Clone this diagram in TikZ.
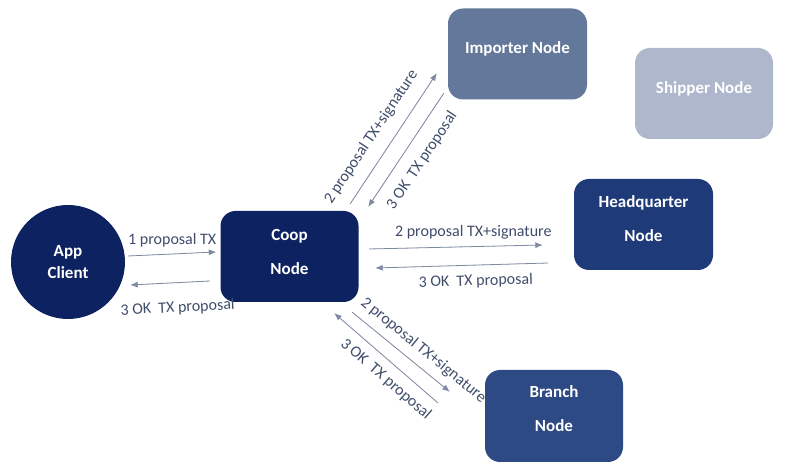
\documentclass[tikz,border=0pt]{standalone}
\usepackage{fontspec}
\setmainfont{Carlito}
\usetikzlibrary{arrows.meta}
\definecolor{navy}{HTML}{0D2260}
\definecolor{hqblue}{HTML}{1E3A78}
\definecolor{branchblue}{HTML}{2E4A85}
\definecolor{importerblue}{HTML}{63789B}
\definecolor{shipperblue}{HTML}{AEB7CB}
\definecolor{arrowgray}{HTML}{7F8AA0}
\definecolor{labeltext}{HTML}{3F4D6B}

\begin{document}
\begin{tikzpicture}[
    x=1pt, y=1pt,
    peer/.style={
      rounded corners=15pt,
      align=center,
      text=white,
      minimum width=138pt,
      minimum height=91pt,
      font=\fontsize{17}{20}\selectfont\bfseries
    },
    app/.style={
      circle,
      fill=navy,
      align=center,
      text=white,
      minimum size=114pt,
      font=\fontsize{17}{20}\selectfont\bfseries
    },
    arrow/.style={-{Latex[length=7.5pt,width=6pt]}, draw=arrowgray, fill=arrowgray, line width=0.8pt},
    lbl/.style={text=labeltext, font=\fontsize{16}{18}\selectfont, inner sep=2pt}
  ]
    \useasboundingbox (0,0) rectangle (785,474);

    \node[app] (client) at (68,212) {App\\[2pt]Client};
    \node[peer, fill=navy, text depth=10pt] (coop) at (289.5,217.5) {Coop\\[14pt]Node};
    \node[peer, fill=importerblue, minimum width=139pt, text depth=12pt] (importer) at (517.5,420) {Importer Node};
    \node[peer, fill=shipperblue, text depth=11pt] (shipper) at (704,380.5) {Shipper Node};
    \node[peer, fill=hqblue, minimum width=139pt, text depth=12pt] (hq) at (643.5,249.5) {Headquarter\\[14pt]Node};
    \node[peer, fill=branchblue, minimum height=92pt, text depth=14pt] (branch) at (554,58) {Branch\\[14pt]Node};

    \draw[arrow] ([shift={(3,6)}]client.east) -- ([shift={(-4,4.5)}]coop.west)
      node[lbl, midway, above=5pt] {1 proposal TX};
    \draw[arrow] ([shift={(-10.5,-24.5)}]coop.west) -- ([shift={(5,-23)}]client.east)
      node[lbl, pos=0.42, sloped, below=16pt] {3 OK\ \ TX proposal};

    \draw[arrow] ([shift={(-8.5,7)}]coop.north east) -- ([shift={(-11,26.5)}]importer.south west)
      node[lbl, pos=0.43, sloped, above=10pt] {2 proposal TX+signature};
    \draw[arrow] ([shift={(-4,6.5)}]importer.south west) -- ([shift={(9.5,4)}]coop.north east)
      node[lbl, midway, sloped, below=10pt] {3 OK\ \ TX proposal};

    \draw[arrow] ([shift={(10.5,7.5)}]coop.east) -- ([shift={(-31,-20.5)}]hq.west)
      node[lbl, pos=0.6, above=5pt] {2 proposal TX+signature};
    \draw[arrow] ([shift={(-26,-38.5)}]hq.west) -- ([shift={(16.5,-11.5)}]coop.east)
      node[lbl, pos=0.42, sloped, below=7pt] {3 OK\ \ TX proposal};

    \draw[arrow] ([shift={(-6.5,-10)}]coop.south east) -- ([shift={(-35,-22)}]branch.north west)
      node[lbl, pos=0.63, sloped, above=6pt] {2 proposal TX+signature};
    \draw[arrow] ([shift={(-47,-33)}]branch.north west) -- ([shift={(-24.5,-11)}]coop.south east)
      node[lbl, pos=0.4, sloped, below=7pt] {3 OK\ \ TX proposal};
  \end{tikzpicture}
\end{document}
